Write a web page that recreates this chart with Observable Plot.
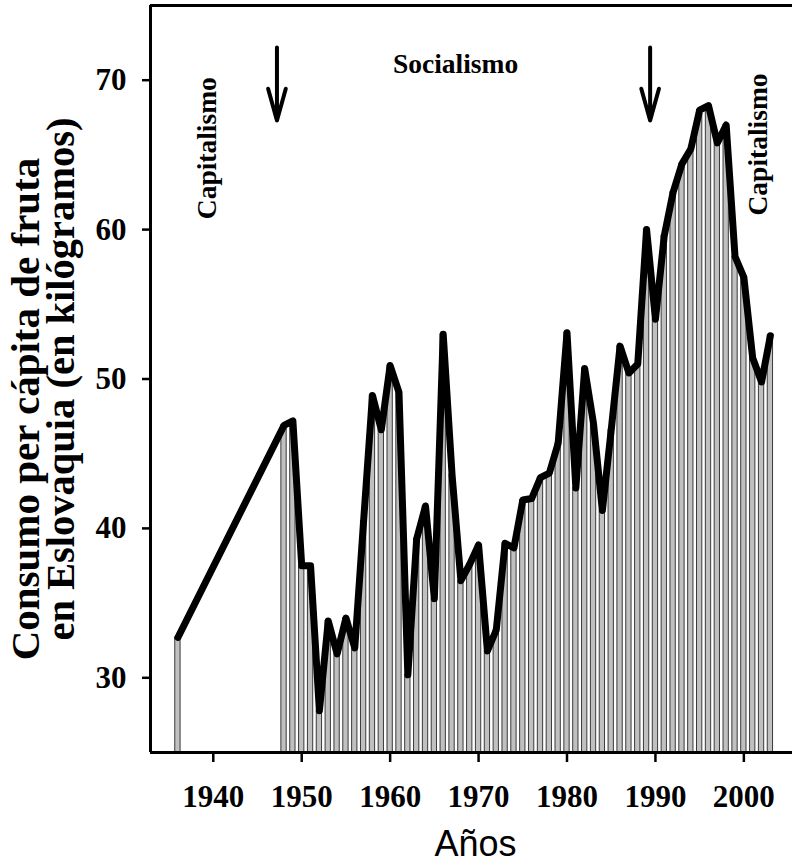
<!DOCTYPE html>
<html><head><meta charset="utf-8">
<script src="https://cdn.jsdelivr.net/npm/d3@7"></script>
<script src="https://cdn.jsdelivr.net/npm/@observablehq/plot@0.6"></script>
<style>body{margin:0;background:#fff}</style>
</head><body><div id="chart"></div>
<script>
const years = [1936,
  1948,1949,1950,1951,1952,1953,1954,1955,1956,1957,
  1958,1959,1960,1961,1962,1963,1964,1965,1966,1967,
  1968,1969,1970,1971,1972,1973,1974,1975,1976,1977,
  1978,1979,1980,1981,1982,1983,1984,1985,1986,1987,
  1988,1989,1990,1991,1992,1993,1994,1995,1996,1997,
  1998,1999,2000,2001,2002,2003];
const values = [32.7,
  46.9,47.2,37.5,37.5,27.8,33.8,31.6,34.0,32.0,40.5,
  48.9,46.6,50.9,49.1,30.2,39.3,41.5,35.3,53.0,43.6,
  36.5,37.6,38.9,31.8,33.2,39.0,38.7,41.9,42.0,43.4,
  43.7,45.7,53.1,42.7,50.7,47.0,41.2,46.6,52.2,50.4,
  51.0,60.0,54.0,59.6,62.5,64.4,65.4,68.0,68.3,65.8,
  67.0,58.2,56.8,51.4,49.8,52.9];
const xTicks = [1940,1950,1960,1970,1980,1990,2000];
const yTicks = [30,40,50,60,70];
const xDomain = [1932.9, 2005.5];
const yDomain = [25, 75];

const arrowYears = [1947.2, 1989.4];
const arrowStart = 74.0;
const arrowEnd = 67.3;

const periodLabels = ["Capitalismo", "Socialismo", "Capitalismo"];
const periodX = [1939.3, 1967.4, 2001.6];
const periodY = [65.45, 71.1, 65.7];
const periodRotate = [-90, 0, -90];

const yLabelLines = ["Consumo per cápita de fruta", "en Eslovaquia (en kilógramos)"];
const xLabel = "Años";

const data = years.map((year, i) => ({year, value: values[i]}));
const arrows = arrowYears.map(x => ({x, y1: arrowStart, y2: arrowEnd}));
const periods = periodLabels.map((t, i) => ({t, x: periodX[i], y: periodY[i], r: periodRotate[i]}));

const serif = "'Liberation Serif', 'Times New Roman', serif";

const chart = Plot.plot({
  width: 792,
  height: 865,
  marginLeft: 150,
  marginRight: 0,
  marginTop: 5,
  marginBottom: 113,
  style: {fontFamily: serif, fontWeight: "bold", background: "#fff", overflow: "visible"},
  x: {domain: xDomain},
  y: {domain: yDomain},
  marks: [
    Plot.rect(data, {
      x1: d => d.year - 0.3, x2: d => d.year + 0.3,
      y1: yDomain[0], y2: "value",
      fill: "#c0c0c0", stroke: "#3a3a3a", strokeWidth: 1
    }),
    Plot.line(data, {x: "year", y: "value", stroke: "#000", strokeWidth: 7, strokeLinejoin: "round", strokeLinecap: "round"}),
    Plot.ruleY([yDomain[0], yDomain[1]], {stroke: "#000", strokeWidth: 3}),
    Plot.ruleX([xDomain[0]], {stroke: "#000", strokeWidth: 3}),
    Plot.axisX({ticks: xTicks, tickSize: 10, tickPadding: 22, tickFormat: "d", fontSize: 31, strokeWidth: 2.5, label: null}),
    Plot.axisY({ticks: yTicks, tickSize: 8, tickPadding: 16, fontSize: 31, strokeWidth: 2.5, label: null}),
    Plot.arrow(arrows, {x1: "x", x2: "x", y1: "y1", y2: "y2", stroke: "#000", strokeWidth: 4,
      headAngle: 31, headLength: 12.4, insetStart: 27, strokeLinecap: "round"}),
    Plot.text(periods, {x: "x", y: "y", text: "t", rotate: "r", fontSize: 27.5, fontWeight: "bold",
      textAnchor: "middle", lineAnchor: "middle", fill: "#000"}),
    Plot.text([yLabelLines[0]], {frameAnchor: "left", rotate: -90, dx: -124.5, dy: 30, fontSize: 41,
      textAnchor: "middle", lineAnchor: "middle", fontWeight: "bold", fill: "#000"}),
    Plot.text([yLabelLines[1]], {frameAnchor: "left", rotate: -90, dx: -89.5, dy: 0, fontSize: 40.5,
      textAnchor: "middle", lineAnchor: "middle", fontWeight: "bold", fill: "#000"}),
    Plot.text([xLabel], {frameAnchor: "bottom", dy: 103, dx: 4, fontSize: 36, fontWeight: "normal",
      fontFamily: "'Liberation Sans', Arial, sans-serif", fill: "#000"})
  ]
});
document.getElementById("chart").appendChild(chart);
</script>
</body></html>
